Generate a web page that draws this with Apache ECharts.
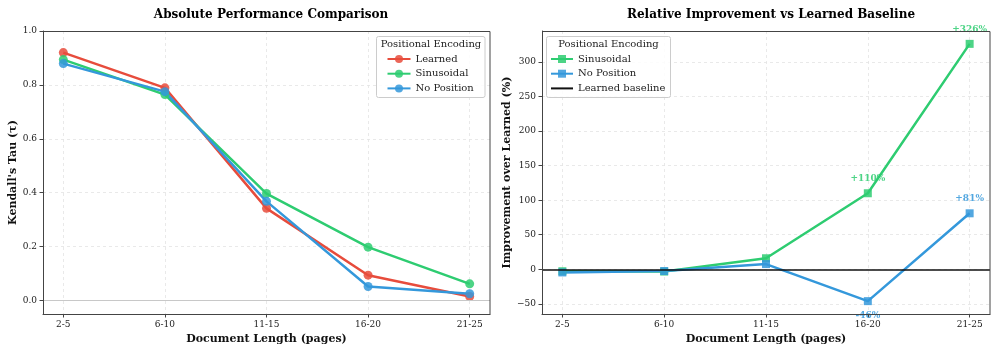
<!DOCTYPE html>
<html>
<head>
<meta charset="utf-8">
<script src="https://cdn.jsdelivr.net/npm/echarts@6/dist/echarts.min.js"></script>
<style>
  html, body { margin: 0; padding: 0; background: #fff; }
  #chart { width: 997px; height: 352px; }
</style>
</head>
<body>
<div id="chart"></div>
<script>
// 数据
const categories = ['2-5', '6-10', '11-15', '16-20', '21-25']
const learned = [0.92, 0.789, 0.342, 0.094, 0.015]
const sinusoidal = [0.894, 0.764, 0.397, 0.198, 0.062]
const noPosition = [0.879, 0.775, 0.368, 0.052, 0.025]
const sinusoidalImp = [-2.8, -3.2, 16, 110, 326]
const noPositionImp = [-4.5, -2.5, 7.6, -46, 81]
const leftTicks = [0, 0.2, 0.4, 0.6, 0.8, 1.0]
const rightTicks = [-50, 0, 50, 100, 150, 200, 250, 300]
const catTicks = [0, 1, 2, 3, 4]

const RED = '#e74c3c'
const GREEN = '#2ecc71'
const BLUE = '#3498db'
const FONT = 'DejaVu Serif'

const chart = echarts.init(document.getElementById('chart'))

const toPoints = (arr) => arr.map((v, i) => [i, v])

// 只标注变化较大的点
const impLabel = (arr, color) => arr.map((v, i) => {
  const item = { value: [i, v] }
  if (Math.abs(v) > 20) {
    item.label = {
      show: true,
      position: v >= 0 ? 'top' : 'bottom',
      distance: 6,
      color: color,
      fontFamily: FONT,
      fontWeight: 'bold',
      fontSize: 9,
      formatter: (v >= 0 ? '+' : '-') + Math.abs(Math.round(v)) + '%'
    }
  }
  return item
})

const xAxisBase = (grid) => ({
  type: 'value',
  gridIndex: grid,
  min: -0.2,
  max: 4.2,
  name: 'Document Length (pages)',
  nameLocation: 'middle',
  nameGap: 18,
  nameTextStyle: { fontFamily: FONT, fontWeight: 'bold', fontSize: 11, color: '#111' },
  axisLine: { show: true, onZero: false, lineStyle: { color: '#444', width: 1 } },
  axisTick: { show: true, customValues: catTicks, length: 3.5, lineStyle: { color: '#444' } },
  axisLabel: {
    customValues: catTicks,
    formatter: (v) => categories[v],
    fontFamily: FONT, fontSize: 9, color: '#222', margin: 6
  },
  splitLine: { show: true, lineStyle: { color: '#e4e4e4', type: [3, 3], width: 0.8 } }
})

const yAxisBase = (grid, ticks, min, max, name, gap, fmt) => ({
  type: 'value',
  gridIndex: grid,
  min: min,
  max: max,
  name: name,
  nameLocation: 'middle',
  nameGap: gap,
  nameTextStyle: { fontFamily: FONT, fontWeight: 'bold', fontSize: 11, color: '#111' },
  axisLine: { show: true, onZero: false, lineStyle: { color: '#444', width: 1 } },
  axisTick: { show: true, customValues: ticks, length: 3.5, lineStyle: { color: '#444' } },
  axisLabel: { customValues: ticks, formatter: fmt, fontFamily: FONT, fontSize: 9, color: '#222', margin: 6 },
  splitLine: { show: true, lineStyle: { color: '#e4e4e4', type: [3, 3], width: 0.8 } }
})

const lineSeries = (name, data, color, symbol, size, xi) => ({
  type: 'line',
  name: name,
  xAxisIndex: xi,
  yAxisIndex: xi,
  data: data,
  symbol: symbol,
  symbolSize: size,
  color: color,
  lineStyle: { width: 2.5, color: color },
  itemStyle: { color: color, opacity: 0.85 },
  z: 3
})

const legendBox = (x, w, cx) => [
  {
    type: 'rect', z: 10,
    shape: { x: x, y: 36.5, width: w, height: 61, r: 2 },
    style: { fill: 'rgba(255,255,255,0.85)', stroke: '#ccc', lineWidth: 1 }
  },
  {
    type: 'text', z: 20, x: cx, y: 44.5,
    style: { text: 'Positional Encoding', fontFamily: FONT, fontSize: 10, fill: '#222', align: 'center', verticalAlign: 'middle' }
  }
]

const frame = (x, w) => ({
  type: 'rect', z: 8, silent: true,
  shape: { x: x, y: 31.5, width: w, height: 283 },
  style: { fill: 'none', stroke: '#444', lineWidth: 1 }
})

const options = {
  backgroundColor: '#fff',
  animation: false,
  title: [
    {
      text: 'Absolute Performance Comparison',
      left: 266, top: 4, textAlign: 'center',
      textStyle: { fontFamily: FONT, fontWeight: 'bold', fontSize: 12, color: '#000' }
    },
    {
      text: 'Relative Improvement vs Learned Baseline',
      left: 766, top: 4, textAlign: 'center',
      textStyle: { fontFamily: FONT, fontWeight: 'bold', fontSize: 12, color: '#000' }
    }
  ],
  grid: [
    { left: 43, right: 507, top: 31, bottom: 38 },
    { left: 542, right: 7, top: 31, bottom: 38 }
  ],
  xAxis: [xAxisBase(0), xAxisBase(1)],
  yAxis: [
    yAxisBase(0, leftTicks, -0.05, 1.0, "Kendall's Tau (τ)", 24, (v) => v.toFixed(1)),
    yAxisBase(1, rightTicks, -64.6, 344.6, 'Improvement over Learned (%)', 29,
      (v) => (v < 0 ? '\u2212' + Math.abs(v) : String(v)))
  ],
  legend: [
    {
      data: ['Learned', 'Sinusoidal', 'No Position'],
      orient: 'vertical',
      left: 386.5, top: 54, padding: 0,
      itemWidth: 23, itemHeight: 10, itemGap: 4.7,
      textStyle: { fontFamily: FONT, fontSize: 10, color: '#222' },
      z: 20
    },
    {
      data: ['Sinusoidal ', 'No Position ', { name: 'Learned baseline', itemStyle: { opacity: 0 } }],
      orient: 'vertical',
      left: 550, top: 54, padding: 0,
      itemWidth: 22, itemHeight: 10, itemGap: 4.7,
      textStyle: { fontFamily: FONT, fontSize: 10, color: '#222' },
      z: 20
    }
  ],
  graphic: [
    frame(43.5, 446.5),
    frame(542.5, 447.5)
  ].concat(legendBox(376.5, 108.5, 431), legendBox(546.5, 124, 608.5)),
  series: [
    Object.assign(lineSeries('Learned', toPoints(learned), RED, 'circle', 9, 0), {
      markLine: {
        silent: true, symbol: 'none', label: { show: false },
        lineStyle: { color: '#c8c8c8', type: 'solid', width: 1 },
        data: [{ yAxis: 0 }]
      }
    }),
    lineSeries('Sinusoidal', toPoints(sinusoidal), GREEN, 'circle', 9, 0),
    lineSeries('No Position', toPoints(noPosition), BLUE, 'circle', 9, 0),
    lineSeries('Sinusoidal ', impLabel(sinusoidalImp, GREEN), GREEN, 'rect', 8, 1),
    lineSeries('No Position ', impLabel(noPositionImp, BLUE), BLUE, 'rect', 8, 1),
    {
      // 基线：Learned = 0%
      type: 'line',
      name: 'Learned baseline',
      xAxisIndex: 1,
      yAxisIndex: 1,
      data: [],
      symbol: 'none',
      color: '#111',
      lineStyle: { color: '#111', width: 1.5 },
      markLine: {
        silent: true, symbol: 'none', label: { show: false },
        lineStyle: { color: '#111', type: 'solid', width: 1.5 },
        data: [{ yAxis: 0 }]
      },
      z: 2
    }
  ]
}

chart.setOption(options)

window.addEventListener('resize', () => {
  chart.resize()
})
</script>
</body>
</html>
